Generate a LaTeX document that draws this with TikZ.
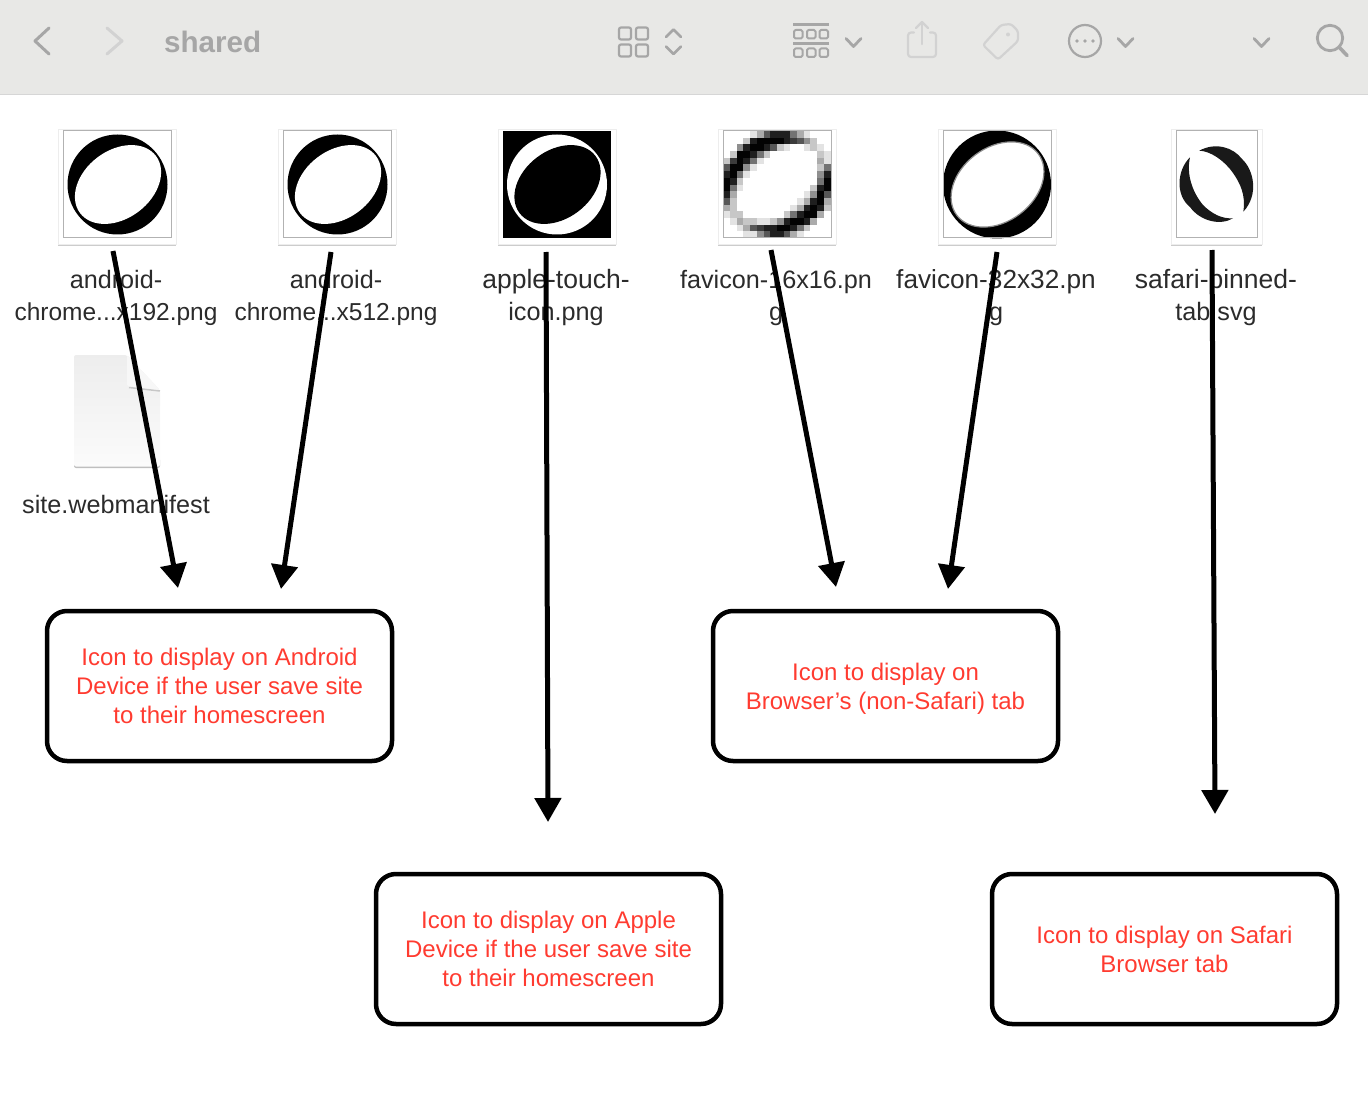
\documentclass[tikz,border=0pt]{standalone}
\usepackage{fontspec}
\setmainfont{Liberation Sans}
\usetikzlibrary{arrows.meta,shadows}
\definecolor{barbg}{HTML}{E8E8E6}
\definecolor{barline}{HTML}{D6D6D6}
\definecolor{baricon}{HTML}{A6A6A6}
\definecolor{barfaint}{HTML}{D2D2D2}
\definecolor{labelink}{HTML}{2B2B2B}
\definecolor{notered}{HTML}{FF3B30}
\tikzset{
	paper/.style={rectangle, fill=white, draw=black!7, inner sep=0pt, minimum height=115, drop shadow={shadow xshift=0pt, shadow yshift=-1.5pt, opacity=.4}},
	frame/.style={rectangle, draw=black!30, line width=1pt, inner sep=0pt, minimum height=107},
	filename/.style={align=center, text=labelink, font=\fontsize{25.2}{32}\selectfont},
	note/.style={rectangle, rounded corners=20, draw=black, line width=4.5, minimum width=345, minimum height=150, align=center, text=notered, font=\fontsize{24}{29}\selectfont},
	pointer/.style={line width=5, -{Triangle[length=24, width=26]}},
	baricons/.style={draw=baricon, line width=2.2, line cap=round, line join=round},
	barfaints/.style={draw=barfaint, line width=2.2, line cap=round, line join=round},
	pics/ball/.style 2 args={code={
		\fill[#1] (0,0) circle (50);
		\fill[#2] (0.5,0) ellipse [x radius=47.5, y radius=34, rotate=37];
	}}
}
\begin{document}
\begin{tikzpicture}[x=1pt, y=-1pt]
	\useasboundingbox (0,0) rectangle (1368,1094);
	% toolbar
	\fill[barbg] (0,0) rectangle (1368,94.5);
	\draw[barline, line width=1] (0,94.5) -- (1368,94.5);
	\draw[baricons, line width=3] (49,28) -- (35,41) -- (49,54);
	\draw[barfaints, line width=3] (107,28) -- (122,41) -- (107,54);
	\node[anchor=base west, inner sep=0pt, text=baricon, font=\fontsize{29.6}{30}\selectfont\bfseries] (title) at (164,52.5) {shared};
	\foreach \x in {619,636}
		\foreach \y in {27.5,44.5}
			\draw[baricons, rounded corners=2] (\x,\y) rectangle +(12,12);
	\draw[baricons, line width=2.6] (666,37) -- (673.5,29.5) -- (681,37);
	\draw[baricons, line width=2.6] (666,46.5) -- (673.5,54) -- (681,46.5);
	\draw[baricons, line cap=butt] (793,24.5) -- (829,24.5);
	\draw[baricons, line cap=butt] (793,43.5) -- (829,43.5);
	\foreach \x in {794,807,819.5}
		\foreach \y in {30,48.5}
			\draw[baricons, rounded corners=1.5, line width=2] (\x,\y) rectangle +(8.5,8.5);
	\foreach \x in {846,1118,1254}
		\draw[baricons, line width=2.8] (\x,38.5) -- (\x+7.5,46.5) -- (\x+15,38.5);
	\draw[barfaints, rounded corners=3] (914,32.5) -- (908,32.5) -- (908,57) -- (936,57) -- (936,32.5) -- (930,32.5);
	\draw[barfaints] (922,44) -- (922,22);
	\draw[barfaints] (916,28) -- (922,22) -- (928,28);
	\draw[barfaints, rounded corners=2.5] (1001,25) -- (1011,24) -- (1018,31) -- (1018,41) -- (998,59.5) -- (983,45) -- cycle;
	\fill[barfaint] (1008,34.5) circle (2);
	\draw[baricons] (1085,41) circle (16);
	\foreach \x in {1077,1085,1093}
		\fill[baricon] (\x,41) circle (1.9);
	\draw[baricons, line width=2.8] (1330,38) circle (12.7);
	\draw[baricons, line width=3.6] (1339,47) -- (1347,55.5);
	% thumbnails
	\node[paper, minimum width=118] (paper1) at (117,186.5) {};
	\node[paper, minimum width=118] (paper2) at (337,186.5) {};
	\node[paper, minimum width=118] (paper3) at (557,186.5) {};
	\node[paper, minimum width=118] (paper4) at (777,186.5) {};
	\node[paper, minimum width=118] (paper5) at (997,186.5) {};
	\node[paper, minimum width=91] (paper6) at (1216.5,186.5) {};
	\pic at (117.5,184.5) {ball={black}{white}};
	\pic at (337.5,184.5) {ball={black}{white}};
	\fill[black] (503,131) rectangle (611,238);
	\pic at (557,184.5) {ball={white}{black}};
	% 16 pixels to the side
	\foreach \cells [count=\j from 0] in {
		{0,0,0,0,1,3,6,8,8,8,5,3,1,0,0,0},
		{0,0,0,2,8,9,9,9,9,8,7,6,4,2,0,0},
		{0,0,4,8,9,9,8,6,2,1,0,0,1,2,1,0},
		{0,2,9,9,8,5,2,0,0,0,0,0,0,0,2,1},
		{2,7,9,8,5,1,0,0,0,0,0,0,0,0,3,1},
		{6,9,9,4,1,0,0,0,0,0,0,0,0,0,2,5},
		{8,9,5,1,0,0,0,0,0,0,0,0,0,0,4,8},
		{9,8,2,0,0,0,0,0,0,0,0,0,0,0,5,9},
		{9,5,1,0,0,0,0,0,0,0,0,0,0,2,8,9},
		{8,3,0,0,0,0,0,0,0,0,0,0,1,4,9,6},
		{6,2,0,0,0,0,0,0,0,0,0,1,3,8,9,3},
		{3,2,0,0,0,0,0,0,0,0,1,3,8,9,8,2},
		{1,2,2,0,0,0,0,0,0,2,5,8,9,9,3,0},
		{0,1,3,2,2,1,1,2,4,8,9,9,8,3,0,0},
		{0,0,1,3,6,7,8,8,9,9,8,5,2,0,0,0},
		{0,0,0,1,1,4,6,8,8,6,3,1,0,0,0,0}}
		\foreach \v [count=\i from 0] in \cells {
			\pgfmathtruncatemacro{\tone}{\v*11}
			\fill[black!\tone] (723.3+6.7*\i,131+6.7*\j) rectangle +(6.8,6.8);
		}
	\begin{scope}[shift={(997,184.5)}]
		\fill[black] (0,0) circle (54);
		\fill[white, draw=black!45, line width=1.2] (0.5,0) ellipse [x radius=51, y radius=37, rotate=37];
	\end{scope}
	\fill[black!90] (1199.3,150.7) .. controls (1215,142) and (1233,147) .. (1242,159) .. controls (1254,170) and (1259,195) .. (1243.3,211.7) .. controls (1246,195) and (1240,183) .. (1233,173) .. controls (1224,160) and (1210,151) .. cycle;
	\fill[black!90] (1190,157.3) .. controls (1177,170) and (1175,195) .. (1190,207) .. controls (1200,221) and (1220,226) .. (1233,218.3) .. controls (1222,219) and (1212,214) .. (1203,205) .. controls (1193,193) and (1186,175) .. cycle;
	\node[frame, minimum width=108] (frame1) at (117,184.5) {};
	\node[frame, minimum width=108] (frame2) at (337,184.5) {};
	\node[frame, minimum width=108] (frame4) at (777,184.5) {};
	\node[frame, minimum width=108] (frame5) at (997,184.5) {};
	\node[frame, minimum width=81] (frame6) at (1216.5,184.5) {};
	% plain document icon
	\fill[black!25, rounded corners=2] (74,458) rectangle (160,468);
	\shade[top color=black!7, bottom color=black!1.5, rounded corners=2] (74,355) -- (127,355) -- (160,390) -- (160,466.5) -- (74,466.5) -- cycle;
	\draw[black!22, line width=1.5] (129,387.5) -- (160,391);
	\fill[black!3, rounded corners=1.5] (127,355) -- (127,386) -- (160,390) -- cycle;
	% file names
	\node[filename] (name1) at (116,298) {android-\\{\fontsize{24.5}{32}\selectfont chrome...x192.png}};
	\node[filename] (name2) at (336,298) {android-\\{\fontsize{24.5}{32}\selectfont chrome...x512.png}};
	\node[filename] (name3) at (556,298) {{\fontsize{26.5}{32}\selectfont apple-touch-}\\icon.png};
	\node[filename] (name4) at (776,298) {favicon-16x16.pn\\g};
	\node[filename] (name5) at (996,298) {{\fontsize{26.2}{32}\selectfont favicon-32x32.pn}\\g};
	\node[filename] (name6) at (1216,298) {{\fontsize{26.5}{32}\selectfont safari-pinned-}\\tab.svg};
	\node[filename] (name7) at (116,504) {site.webmanifest};
	% what each one is for
	\node[note] (android) at (219.5,686) {Icon to display on Android\\Device if the user save site\\to their homescreen};
	\node[note] (browser) at (885.5,686) {Icon to display on\\\smash{Browser’s (non-Safari) tab}};
	\node[note] (apple) at (548.5,949) {Icon to display on Apple\\Device if the user save site\\to their homescreen};
	\node[note] (safari) at (1164.5,949) {Icon to display on Safari\\Browser tab};
	% arrows
	\coordinate (from1) at (113,251);
	\coordinate (to1) at (178,588);
	\coordinate (from2) at (331,252);
	\coordinate (to2) at (281,589);
	\coordinate (from3) at (546,252);
	\coordinate (to3) at (548,822);
	\coordinate (from4) at (771,250);
	\coordinate (to4) at (836,587);
	\coordinate (from5) at (997,252);
	\coordinate (to5) at (948,589);
	\coordinate (from6) at (1212,250);
	\coordinate (to6) at (1215,814);
	\foreach \n in {1,...,6}
		\draw[pointer] (from\n) to (to\n);
\end{tikzpicture}
\end{document}
